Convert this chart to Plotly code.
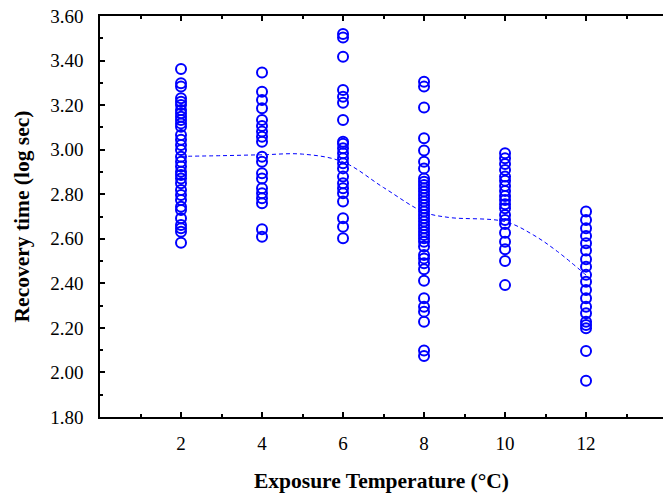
import plotly.graph_objects as go

temps = [2, 4, 6, 8, 10, 12]

rt_2 = [3.362, 3.298, 3.283, 3.231, 3.215, 3.200, 3.178, 3.163, 3.148, 3.133, 3.118, 3.103,
        3.066, 3.044, 3.021, 2.999, 2.968, 2.946, 2.924, 2.901, 2.886, 2.871, 2.849, 2.819,
        2.797, 2.774, 2.744, 2.729, 2.692, 2.662, 2.647, 2.632, 2.582]
rt_4 = [3.346, 3.260, 3.223, 3.186, 3.133, 3.106, 3.081, 3.058, 3.036, 2.968, 2.946, 2.894,
        2.871, 2.827, 2.804, 2.782, 2.759, 2.643, 2.609]
rt_6 = [3.519, 3.504, 3.417, 3.268, 3.238, 3.211, 3.133, 3.036, 3.026, 3.006, 2.984, 2.961,
        2.939, 2.916, 2.879, 2.849, 2.827, 2.804, 2.767, 2.692, 2.654, 2.602]
rt_8 = [3.305, 3.283, 3.189, 3.051, 2.996, 2.946, 2.916, 2.871, 2.856, 2.841, 2.827, 2.812,
        2.797, 2.782, 2.767, 2.752, 2.737, 2.722, 2.707, 2.692, 2.677, 2.662, 2.647, 2.632,
        2.617, 2.602, 2.587, 2.565, 2.527, 2.512, 2.490, 2.463, 2.412, 2.333, 2.295, 2.273,
        2.228, 2.098, 2.074]
rt_10 = [2.984, 2.961, 2.936, 2.909, 2.879, 2.861, 2.837, 2.815, 2.792, 2.774, 2.755, 2.737,
         2.707, 2.684, 2.666, 2.627, 2.587, 2.553, 2.500, 2.392]
rt_12 = [2.722, 2.684, 2.647, 2.613, 2.580, 2.547, 2.508, 2.475, 2.438, 2.407, 2.370, 2.333,
         2.295, 2.266, 2.228, 2.213, 2.198, 2.096, 1.963]

fit_x = [2, 3, 4, 5, 6, 7, 8, 8.6, 10, 10.7, 11.3, 12]
fit_y = [2.970, 2.973, 2.977, 2.980, 2.945, 2.830, 2.720, 2.696, 2.677, 2.617, 2.542, 2.437]

groups = [rt_2, rt_4, rt_6, rt_8, rt_10, rt_12]
xs, ys = [], []
for t, vals in zip(temps, groups):
    xs += [t] * len(vals)
    ys += vals

fig = go.Figure()
fig.add_trace(go.Scatter(
    x=xs, y=ys, mode="markers",
    marker=dict(symbol="circle-open", size=10, color="#0000FF", line=dict(width=2, color="#0000FF")),
    showlegend=False, hoverinfo="skip"))
fig.add_trace(go.Scatter(
    x=fit_x, y=fit_y, mode="lines", line=dict(color="#0000FF", width=1, dash="4px,3px", shape="spline"),
    showlegend=False, hoverinfo="skip"))

font = "Liberation Serif"
fig.update_layout(
    width=663, height=493,
    margin=dict(l=100, r=0, t=16, b=76),
    paper_bgcolor="white", plot_bgcolor="white",
    font=dict(family=font, size=19, color="black"),
    xaxis=dict(
        range=[0, 13.9], tickvals=temps, ticks="inside", ticklen=5, tickwidth=1.5,
        tickcolor="black", showline=True, linecolor="black", linewidth=1.5, mirror="ticks",
        showgrid=False, zeroline=False, automargin=False,
        minor=dict(tickvals=[1, 3, 5, 7, 9, 11, 13], ticks="inside", ticklen=3, tickcolor="black"),
        tickfont=dict(family=font, size=19), ticklabelstandoff=8,
        title=dict(text="<b>Exposure Temperature (°C)</b>", font=dict(family=font, size=21.5), standoff=20),
    ),
    yaxis=dict(
        range=[1.8, 3.6], dtick=0.2, tick0=1.8, tickformat=".2f", ticks="inside", ticklen=5,
        tickwidth=1.5, tickcolor="black", showline=True, linecolor="black", linewidth=1.5,
        mirror=False, showgrid=False, zeroline=False, automargin=False,
        minor=dict(dtick=0.1, ticks="inside", ticklen=3, tickcolor="black"),
        tickfont=dict(family=font, size=19), ticklabelstandoff=11,
        title=dict(text="<b>Recovery time (log sec)</b>", font=dict(family=font, size=21.5), standoff=15),
    ),
)
fig.write_html("out.html", config={"displayModeBar": False},
               post_script="document.body.style.margin='0';document.body.style.overflow='hidden';")
